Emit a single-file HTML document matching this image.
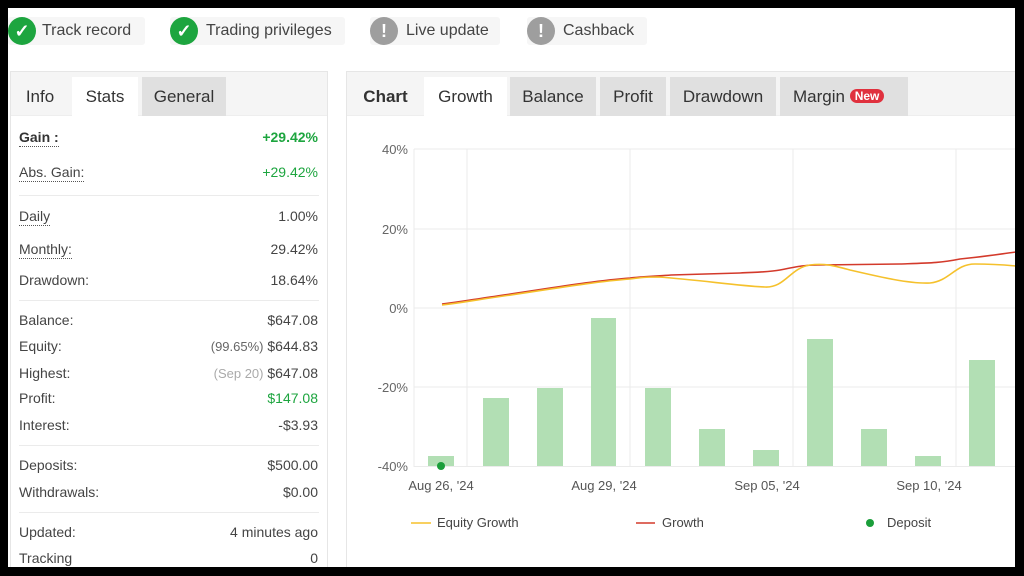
<!DOCTYPE html>
<html><head><meta charset="utf-8"><style>
*{margin:0;padding:0;box-sizing:border-box}
body{width:1024px;height:576px;background:#000;position:relative;overflow:hidden;font-family:"Liberation Sans",sans-serif}
#page{position:absolute;left:8px;top:8px;width:1007px;height:559px;background:#fff;overflow:hidden}
.a{position:absolute}
.badge{position:absolute;top:9px;height:28px;background:#f6f6f6;border-radius:3px;font-size:16px;color:#444;line-height:28px}
.ic{position:absolute;top:0;width:28px;height:28px;border-radius:50%;color:#fff;text-align:center;font-weight:bold;line-height:28px;font-size:18px}
.g{background:#1da53f}.gr{background:#9e9e9e}
.panel{position:absolute;border:1px solid #e6e6e6;background:#fff}
.tabs{position:absolute;left:0;top:0;right:0;height:44px;background:#f5f5f5;border-bottom:1px solid #eee}
.tab{position:absolute;top:5px;height:39px;line-height:39px;font-size:17px;color:#333;text-align:center}
.row{position:absolute;left:8px;right:9px;font-size:14px;color:#444;height:20px;line-height:20px}
.row .v{position:absolute;right:0;top:0}
.row .l.d{border-bottom:1px dotted #555;line-height:17px;display:inline-block}
.sep{position:absolute;left:8px;right:8px;height:1px;background:#ebebeb}
.gn{color:#1da53f}
</style></head><body><div id="page">
<div class="badge" style="left:0;width:137px"><div class="ic g" style="left:0">✓</div><span style="position:absolute;left:34px">Track record</span></div>
<div class="badge" style="left:162px;width:175px"><div class="ic g" style="left:0">✓</div><span style="position:absolute;left:36px">Trading privileges</span></div>
<div class="badge" style="left:362px;width:130px"><div class="ic gr" style="left:0">!</div><span style="position:absolute;left:36px">Live update</span></div>
<div class="badge" style="left:519px;width:120px"><div class="ic gr" style="left:0">!</div><span style="position:absolute;left:36px">Cashback</span></div>

<div class="panel" style="left:2px;top:63px;width:318px;height:500px">
<div class="tabs"><div class="tab" style="left:0;width:58px">Info</div><div class="tab" style="left:61px;width:66px;background:#fff;height:40px">Stats</div><div class="tab" style="left:131px;width:84px;background:#e0e0e0">General</div></div>
<div class="row" style="top:55px"><span class="l d" style="font-weight:bold;color:#333">Gain :</span><span class="v gn" style="font-weight:bold">+29.42%</span></div>
<div class="row" style="top:90px"><span class="l d">Abs. Gain:</span><span class="v gn">+29.42%</span></div>
<div class="sep" style="top:123px"></div>
<div class="row" style="top:134px"><span class="l d">Daily</span><span class="v">1.00%</span></div>
<div class="row" style="top:167px"><span class="l d">Monthly:</span><span class="v">29.42%</span></div>
<div class="row" style="top:198px"><span class="l">Drawdown:</span><span class="v">18.64%</span></div>
<div class="sep" style="top:228px"></div>
<div class="row" style="top:238px"><span class="l">Balance:</span><span class="v">$647.08</span></div>
<div class="row" style="top:264px"><span class="l">Equity:</span><span class="v"><span style="font-size:13px;color:#666">(99.65%)</span> $644.83</span></div>
<div class="row" style="top:291px"><span class="l">Highest:</span><span class="v"><span style="font-size:13px;color:#aaa">(Sep 20)</span> $647.08</span></div>
<div class="row" style="top:316px"><span class="l">Profit:</span><span class="v gn">$147.08</span></div>
<div class="row" style="top:343px"><span class="l">Interest:</span><span class="v">-$3.93</span></div>
<div class="sep" style="top:373px"></div>
<div class="row" style="top:383px"><span class="l">Deposits:</span><span class="v">$500.00</span></div>
<div class="row" style="top:410px"><span class="l">Withdrawals:</span><span class="v">$0.00</span></div>
<div class="sep" style="top:440px"></div>
<div class="row" style="top:450px"><span class="l">Updated:</span><span class="v">4 minutes ago</span></div>
<div class="row" style="top:476px"><span class="l">Tracking</span><span class="v">0</span></div>
</div>

<div class="panel" style="left:338px;top:63px;width:680px;height:510px">
<div class="tabs"><div class="tab" style="left:0;width:77px;font-weight:bold;color:#333">Chart</div><div class="tab" style="left:77px;width:83px;background:#fff;height:40px">Growth</div><div class="tab" style="left:163px;width:86px;background:#e0e0e0">Balance</div><div class="tab" style="left:253px;width:66px;background:#e0e0e0">Profit</div><div class="tab" style="left:323px;width:106px;background:#e0e0e0">Drawdown</div><div class="tab" style="left:433px;width:128px;background:#e0e0e0;text-align:left;padding-left:13px">Margin <span style="background:#e0313e;color:#fff;font-size:12px;font-weight:bold;border-radius:8px;padding:0 5px;line-height:14px;display:inline-block;vertical-align:2px">New</span></div></div>
</div>

<svg class="a" style="left:-8px;top:-8px" width="1024" height="576" font-family="Liberation Sans, sans-serif">
<g stroke="#ebebeb" stroke-width="1">
<line x1="414" y1="149" x2="1016" y2="149"/><line x1="414" y1="229" x2="1016" y2="229"/><line x1="414" y1="308" x2="1016" y2="308"/><line x1="414" y1="387" x2="1016" y2="387"/><line x1="414" y1="466.5" x2="1016" y2="466.5"/>
<line x1="414" y1="149" x2="414" y2="467"/><line x1="467" y1="149" x2="467" y2="467"/><line x1="630" y1="149" x2="630" y2="467"/><line x1="793" y1="149" x2="793" y2="467"/><line x1="956" y1="149" x2="956" y2="467"/>
</g>
<g fill="#666" font-size="13" text-anchor="end">
<text x="408" y="154">40%</text><text x="408" y="234">20%</text><text x="408" y="313">0%</text><text x="408" y="392">-20%</text><text x="408" y="471">-40%</text>
</g>
<g fill="#b2dfb4">
<rect x="428" y="456" width="26" height="10"/><rect x="483" y="398" width="26" height="68"/><rect x="537" y="388" width="26" height="78"/><rect x="591" y="318" width="25" height="148"/><rect x="645" y="388" width="26" height="78"/><rect x="699" y="429" width="26" height="37"/><rect x="753" y="450" width="26" height="16"/><rect x="807" y="339" width="26" height="127"/><rect x="861" y="429" width="26" height="37"/><rect x="915" y="456" width="26" height="10"/><rect x="969" y="360" width="26" height="106"/>
</g>
<path d="M442,304 C460,302 470,300 490,297 C540,290 590,281 630,278 C650,276 660,276 671,275 L740,273 C760,272 770,272 780,270 C800,266 805,265 818,265 L900,264 C930,263 940,263 960,259 C990,256 1000,254 1016,252" fill="none" stroke="#d33a2b" stroke-width="1.6"/>
<path d="M442,305 C460,303 470,301 490,298 C540,291 590,282 630,279 C645,277 650,277 659,277 C700,280 740,286 765,287 C785,288 790,268 810,265 C825,263 835,266 850,270 C880,277 910,284 930,283 C950,281 955,264 975,264 C995,264 1005,265 1016,266" fill="none" stroke="#f5c12c" stroke-width="1.6"/>
<circle cx="441" cy="466" r="4" fill="#1a9e3a"/>
<g fill="#555" font-size="13" text-anchor="middle">
<text x="441" y="490">Aug 26, '24</text><text x="604" y="490">Aug 29, '24</text><text x="767" y="490">Sep 05, '24</text><text x="929" y="490">Sep 10, '24</text>
</g>
<line x1="411" y1="523" x2="431" y2="523" stroke="#f5c12c" stroke-width="1.5"/>
<text x="437" y="527" font-size="13" fill="#444">Equity Growth</text>
<line x1="636" y1="523" x2="655" y2="523" stroke="#d33a2b" stroke-width="1.5"/>
<text x="662" y="527" font-size="13" fill="#444">Growth</text>
<circle cx="870" cy="523" r="4" fill="#1a9e3a"/>
<text x="887" y="527" font-size="13" fill="#444">Deposit</text>
</svg>
</div></body></html>
